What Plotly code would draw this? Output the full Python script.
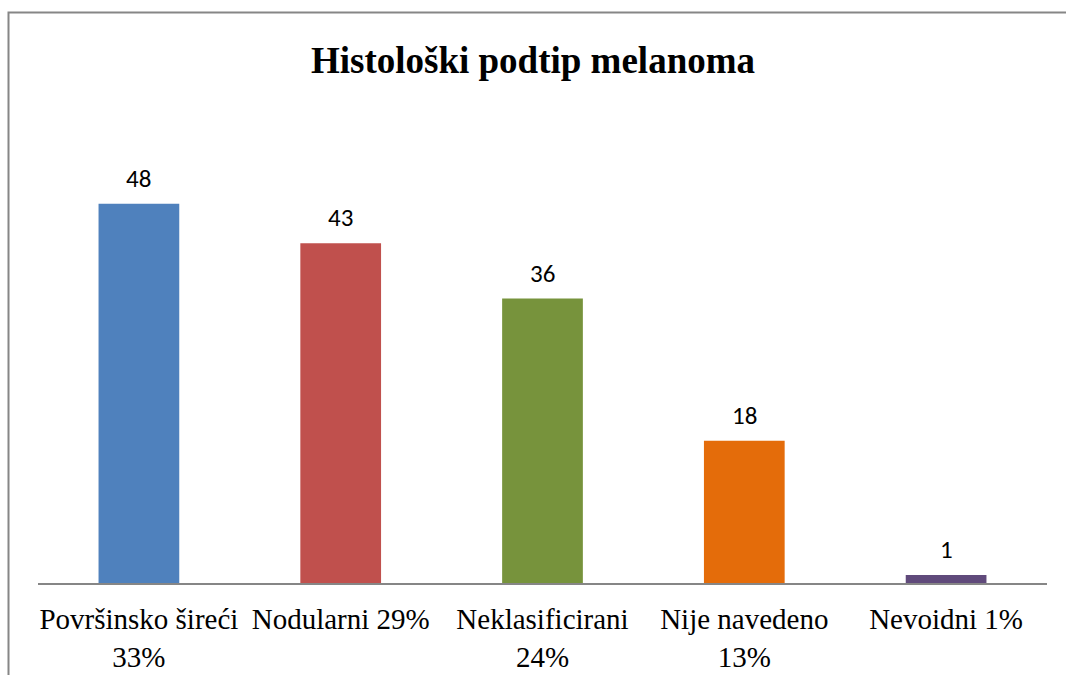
import plotly.graph_objects as go

categories = ["Površinsko šireći<br>33%", "Nodularni 29%", "Neklasificirani<br>24%", "Nije navedeno<br>13%", "Nevoidni 1%"]
values = [48, 43, 36, 18, 1]
colors = ["#4F81BD", "#C0504D", "#77933C", "#E46C0A", "#604A7B"]
title = "Histološki podtip melanoma"

fig = go.Figure()
fig.add_trace(go.Bar(
    x=categories, y=values, marker=dict(color=colors, line=dict(width=0)),
    width=0.4, hoverinfo="x+y",
))

for c, v in zip(categories, values):
    fig.add_annotation(x=c, y=v, text=str(v), showarrow=False, yanchor="bottom",
                       yshift=8, font=dict(family="Carlito, Liberation Sans, sans-serif", size=25, color="#000000"))

# chart border
fig.add_shape(type="rect", xref="paper", yref="paper",
              x0=(8.5 - 38) / 1009, x1=(1075 - 38) / 1009,
              y0=(583 - 690) / 474, y1=(583 - 12.5) / 474,
              line=dict(color="#868686", width=2), fillcolor="rgba(0,0,0,0)", layer="below")

fig.update_layout(
    width=1066, height=675,
    margin=dict(l=38, r=19, t=109, b=92),
    paper_bgcolor="white", plot_bgcolor="white",
    showlegend=False,
    title=dict(text="<b>" + title + "</b>", x=0.5, xanchor="center", y=1 - 60 / 675, yanchor="middle",
               font=dict(family="Liberation Serif, Times New Roman, serif", size=37, color="#000000")),
    xaxis=dict(showline=True, linecolor="#868686", linewidth=2, ticks="", showgrid=False,
               automargin=False,
               tickfont=dict(family="Liberation Serif, Times New Roman, serif", size=29, color="#000000"),
               ticklabelstandoff=9),
    yaxis=dict(range=[0, 60], visible=False, showgrid=False, zeroline=False, automargin=False),
    bargap=0.6,
)

fig.write_html("out.html", config={"displayModeBar": False},
               post_script="document.body.style.margin='0';")
